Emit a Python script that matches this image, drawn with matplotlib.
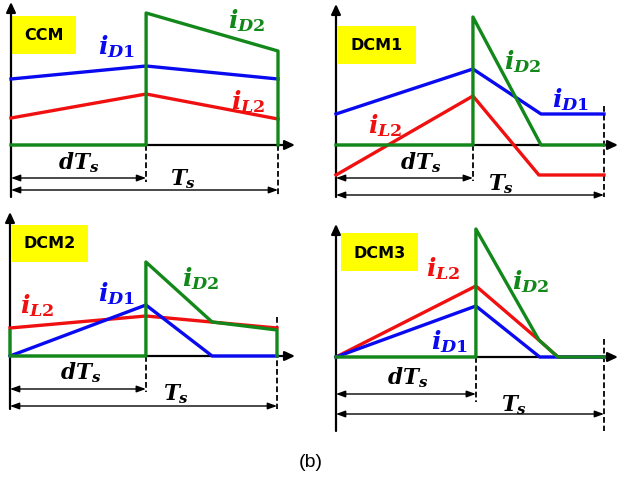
import matplotlib
matplotlib.use('Agg')
import matplotlib.pyplot as plt
from matplotlib.patches import Rectangle

plt.rcParams['mathtext.fontset'] = 'custom'
plt.rcParams['mathtext.it'] = 'DejaVu Serif:italic:bold'
plt.rcParams['mathtext.rm'] = 'DejaVu Serif:bold'

BLUE = '#0a0af0'
RED = '#f01010'
GREEN = '#13881a'
YELLOW = '#ffff00'

# ---- waveform data: time in units of Ts, currents in arbitrary units ----
# CCM
ccm_d = 0.506
ccm_t_lin = [0, ccm_d, 1]
ccm_iD1 = [66, 79, 66]
ccm_iL2 = [27, 51, 26]
ccm_t_D2 = [0, ccm_d, ccm_d, 1, 1]
ccm_iD2 = [0, 0, 132, 94, 0]

# DCM1
dcm1_d = 0.511
dcm1_t_D1 = [0, dcm1_d, 0.765, 1]
dcm1_iD1 = [31, 76, 31, 31]
dcm1_t_L2 = [0, dcm1_d, 0.757, 1]
dcm1_iL2 = [-30, 49, -30, -30]
dcm1_t_D2 = [0, dcm1_d, dcm1_d, 0.765, 1]
dcm1_iD2 = [0, 0, 128, 0, 0]

# DCM2
dcm2_d = 0.509
dcm2_t_L2 = [0, dcm2_d, 1]
dcm2_iL2 = [28, 40, 28]
dcm2_t_D1 = [0, dcm2_d, 0.757, 1]
dcm2_iD1 = [0, 51, 0, 0]
dcm2_t_D2 = [0, 0, dcm2_d, dcm2_d, 0.757, 1, 1]
dcm2_iD2 = [25, 0, 0, 94, 34, 26, 0]

# DCM3
dcm3_d = 0.522
dcm3_t_L2 = [0, dcm3_d, 0.757, 0.828, 1]
dcm3_iL2 = [0, 71, 17, 0, 0]
dcm3_t_D1 = [0, dcm3_d, 0.76, 1]
dcm3_iD1 = [0, 51, 0, 0]
dcm3_t_D2 = [0, dcm3_d, dcm3_d, 0.757, 0.828, 1]
dcm3_iD2 = [0, 0, 128, 17, 0, 0]

W, H = 620, 481
fig = plt.figure(figsize=(W / 100, H / 100), dpi=100)


def make_panel(rect, ox, oy, tsx):
    # rect in pixels (left, top, width, height); origin at pixel (ox, oy), Ts at pixel tsx
    l, t, w, h = rect
    ax = fig.add_axes([l / W, 1 - (t + h) / H, w / W, h / H])
    ax.set_xlim((l - ox) / (tsx - ox), (l + w - ox) / (tsx - ox))
    ax.set_ylim(oy - (t + h), oy - t)
    ax.axis('off')
    px = lambda x: (x - ox) / (tsx - ox)
    py = lambda y: oy - y
    return ax, px, py


def frame(ax, px, py, y_top, y_bot, x_end, d, dts_bot, ts_top, ts_bot, arr1, arr2):
    head = dict(color='black', lw=1.6, shrinkA=0, shrinkB=0,
                arrowstyle='-|>,head_length=0.6,head_width=0.28')
    ax.annotate('', xy=(0, py(y_top)), xytext=(0, py(y_bot)), arrowprops=head)
    ax.annotate('', xy=(px(x_end), 0), xytext=(0, 0), arrowprops=head)
    dash = (0, (3.2, 1.6))
    ax.plot([d, d], [0, py(dts_bot)], color='black', lw=1.3, ls=dash)
    ax.plot([1, 1], [py(ts_top), py(ts_bot)], color='black', lw=1.3, ls=dash)
    dim = dict(color='black', lw=1.0, shrinkA=0, shrinkB=0,
               arrowstyle='<|-|>,head_length=0.55,head_width=0.2')
    ax.annotate('', xy=(d, py(arr1)), xytext=(0, py(arr1)), arrowprops=dim)
    ax.annotate('', xy=(1, py(arr2)), xytext=(0, py(arr2)), arrowprops=dim)


def tag(ax, px, py, name, box, txt_xy):
    x0, y0, x1, y1 = box
    ax.add_patch(Rectangle((px(x0), py(y1)), px(x1) - px(x0), py(y0) - py(y1),
                           facecolor=YELLOW, edgecolor='none', zorder=1))
    ax.text(px(txt_xy[0]), py(txt_xy[1]), name, fontsize=11.5, fontweight='bold',
            ha='center', va='center', zorder=2)


def lab(ax, px, py, s, x, y, c='black', fs=18):
    ax.text(px(x), py(y), s, color=c, fontsize=fs, ha='center', va='center', zorder=5)


LW = 2.4
TFS = 15.5

# ---- CCM ----
ax, px, py = make_panel((0, 0, 310, 210), 11, 146, 278)
frame(ax, px, py, 3, 198, 295, ccm_d, 183, 146, 198, 179, 191)
ax.plot(ccm_t_lin, ccm_iD1, color=BLUE, lw=LW, zorder=3)
ax.plot(ccm_t_lin, ccm_iL2, color=RED, lw=LW, zorder=3)
ax.plot(ccm_t_D2, ccm_iD2, color=GREEN, lw=LW, zorder=4)
tag(ax, px, py, 'CCM', (12, 17, 76, 55), (44, 36))
lab(ax, px, py, r'$i_{D1}$', 117, 47, BLUE)
lab(ax, px, py, r'$i_{D2}$', 247, 21, GREEN)
lab(ax, px, py, r'$i_{L2}$', 248, 102, RED)
lab(ax, px, py, r'$dT_s$', 79, 163, fs=TFS)
lab(ax, px, py, r'$T_s$', 183, 179, fs=TFS)

# ---- DCM1 ----
ax, px, py = make_panel((310, 0, 310, 210), 336, 146, 604)
frame(ax, px, py, 5, 198, 618, dcm1_d, 182, 107, 198, 179, 196)
ax.plot(dcm1_t_D1, dcm1_iD1, color=BLUE, lw=LW, zorder=3)
ax.plot(dcm1_t_L2, dcm1_iL2, color=RED, lw=LW, zorder=3)
ax.plot(dcm1_t_D2, dcm1_iD2, color=GREEN, lw=LW, zorder=4)
tag(ax, px, py, 'DCM1', (338, 27, 416, 65), (377, 46))
lab(ax, px, py, r'$i_{D2}$', 523, 62, GREEN)
lab(ax, px, py, r'$i_{D1}$', 571, 100, BLUE)
lab(ax, px, py, r'$i_{L2}$', 385, 126, RED)
lab(ax, px, py, r'$dT_s$', 421, 163, fs=TFS)
lab(ax, px, py, r'$T_s$', 501, 184, fs=TFS)

# ---- DCM2 ----
ax, px, py = make_panel((0, 210, 310, 220), 10, 357, 277)
frame(ax, px, py, 213, 410, 295, dcm2_d, 393, 318, 410, 390, 407)
ax.plot(dcm2_t_L2, dcm2_iL2, color=RED, lw=LW, zorder=3)
ax.plot(dcm2_t_D1, dcm2_iD1, color=BLUE, lw=LW, zorder=3)
ax.plot(dcm2_t_D2, dcm2_iD2, color=GREEN, lw=LW, zorder=4)
tag(ax, px, py, 'DCM2', (12, 226, 88, 263), (50, 244))
lab(ax, px, py, r'$i_{L2}$', 37, 306, RED)
lab(ax, px, py, r'$i_{D1}$', 117, 294, BLUE)
lab(ax, px, py, r'$i_{D2}$', 201, 279, GREEN)
lab(ax, px, py, r'$dT_s$', 81, 373, fs=TFS)
lab(ax, px, py, r'$T_s$', 176, 394, fs=TFS)

# ---- DCM3 ----
ax, px, py = make_panel((310, 210, 310, 230), 336, 358, 604)
frame(ax, px, py, 225, 432, 618, dcm3_d, 403, 340, 432, 395, 415)
ax.plot(dcm3_t_L2, dcm3_iL2, color=RED, lw=LW, zorder=3)
ax.plot(dcm3_t_D1, dcm3_iD1, color=BLUE, lw=LW, zorder=3)
ax.plot(dcm3_t_D2, dcm3_iD2, color=GREEN, lw=LW, zorder=4)
tag(ax, px, py, 'DCM3', (341, 234, 418, 272), (380, 253))
lab(ax, px, py, r'$i_{L2}$', 443, 269, RED)
lab(ax, px, py, r'$i_{D1}$', 450, 342, BLUE)
lab(ax, px, py, r'$i_{D2}$', 531, 282, GREEN)
lab(ax, px, py, r'$dT_s$', 408, 378, fs=TFS)
lab(ax, px, py, r'$T_s$', 514, 405, fs=TFS)

fig.text(311 / W, 1 - 463 / H, '(b)', fontsize=14, ha='center', va='center',
         family='Liberation Sans')

fig.savefig('out.png', dpi=100)
